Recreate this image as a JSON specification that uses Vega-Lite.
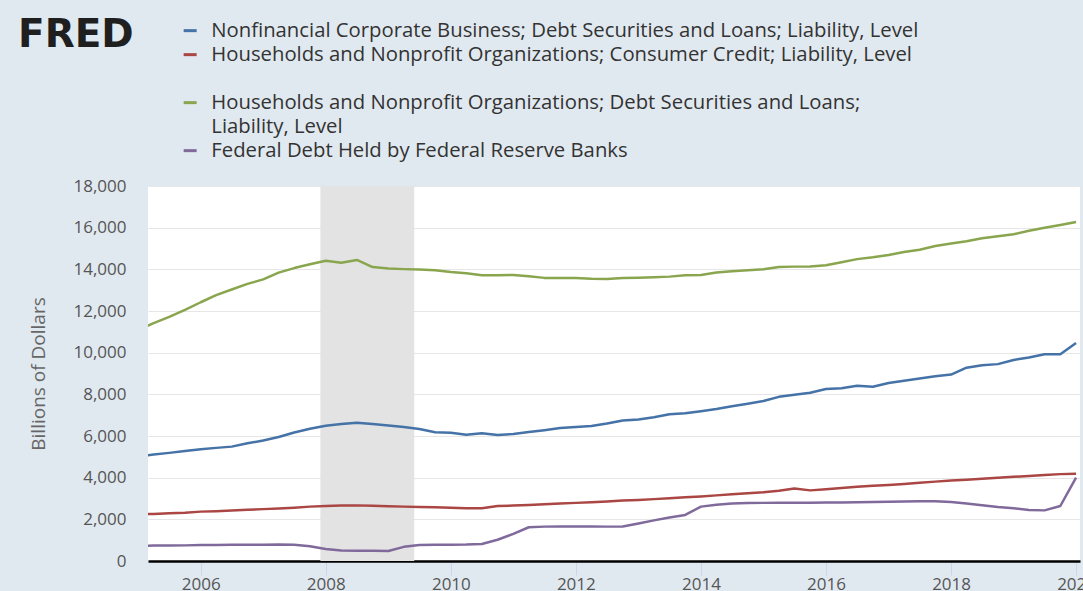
{
  "$schema": "https://vega.github.io/schema/vega-lite/v6.json",
  "width": 932,
  "height": 375,
  "autosize": {"type": "none"},
  "padding": {"left": 148, "top": 186, "right": 3, "bottom": 30},
  "background": "#e1e9f0",
  "title": {
    "text": "FRED",
    "anchor": "start",
    "frame": "group",
    "font": "DejaVu Sans",
    "fontWeight": "bold",
    "fontSize": 39,
    "color": "#1f1f1f",
    "dx": -130,
    "dy": 34,
    "offset": 0
  },
  "datasets": {
    "recession": [{"start": "2007-12-01", "end": "2009-06-01"}],
    "series": [
      {"date": "2005-01-01", "corp": 5020, "cons": 2240, "hh": 11100, "fed": 730},
      {"date": "2005-04-01", "corp": 5110, "cons": 2260, "hh": 11420, "fed": 740},
      {"date": "2005-07-01", "corp": 5190, "cons": 2290, "hh": 11720, "fed": 745},
      {"date": "2005-10-01", "corp": 5280, "cons": 2320, "hh": 12050, "fed": 750},
      {"date": "2006-01-01", "corp": 5360, "cons": 2370, "hh": 12420, "fed": 765},
      {"date": "2006-04-01", "corp": 5430, "cons": 2390, "hh": 12760, "fed": 770},
      {"date": "2006-07-01", "corp": 5490, "cons": 2420, "hh": 13030, "fed": 775},
      {"date": "2006-10-01", "corp": 5650, "cons": 2460, "hh": 13300, "fed": 780},
      {"date": "2007-01-01", "corp": 5780, "cons": 2490, "hh": 13520, "fed": 785},
      {"date": "2007-04-01", "corp": 5950, "cons": 2520, "hh": 13840, "fed": 790},
      {"date": "2007-07-01", "corp": 6170, "cons": 2560, "hh": 14060, "fed": 775},
      {"date": "2007-10-01", "corp": 6350, "cons": 2610, "hh": 14240, "fed": 710},
      {"date": "2008-01-01", "corp": 6490, "cons": 2640, "hh": 14410, "fed": 580},
      {"date": "2008-04-01", "corp": 6580, "cons": 2660, "hh": 14320, "fed": 500},
      {"date": "2008-07-01", "corp": 6640, "cons": 2670, "hh": 14450, "fed": 495},
      {"date": "2008-10-01", "corp": 6580, "cons": 2650, "hh": 14110, "fed": 495},
      {"date": "2009-01-01", "corp": 6500, "cons": 2630, "hh": 14040, "fed": 480},
      {"date": "2009-04-01", "corp": 6430, "cons": 2610, "hh": 14010, "fed": 680},
      {"date": "2009-07-01", "corp": 6340, "cons": 2590, "hh": 13990, "fed": 770},
      {"date": "2009-10-01", "corp": 6180, "cons": 2575, "hh": 13960, "fed": 775},
      {"date": "2010-01-01", "corp": 6160, "cons": 2560, "hh": 13870, "fed": 780},
      {"date": "2010-04-01", "corp": 6060, "cons": 2530, "hh": 13810, "fed": 790},
      {"date": "2010-07-01", "corp": 6130, "cons": 2530, "hh": 13720, "fed": 820},
      {"date": "2010-10-01", "corp": 6050, "cons": 2640, "hh": 13720, "fed": 1020},
      {"date": "2011-01-01", "corp": 6100, "cons": 2660, "hh": 13730, "fed": 1300},
      {"date": "2011-04-01", "corp": 6190, "cons": 2690, "hh": 13670, "fed": 1620},
      {"date": "2011-07-01", "corp": 6280, "cons": 2720, "hh": 13590, "fed": 1650},
      {"date": "2011-10-01", "corp": 6380, "cons": 2760, "hh": 13590, "fed": 1660},
      {"date": "2012-01-01", "corp": 6430, "cons": 2790, "hh": 13580, "fed": 1660},
      {"date": "2012-04-01", "corp": 6480, "cons": 2820, "hh": 13550, "fed": 1660},
      {"date": "2012-07-01", "corp": 6600, "cons": 2860, "hh": 13540, "fed": 1650},
      {"date": "2012-10-01", "corp": 6740, "cons": 2900, "hh": 13580, "fed": 1660},
      {"date": "2013-01-01", "corp": 6790, "cons": 2930, "hh": 13600, "fed": 1800},
      {"date": "2013-04-01", "corp": 6900, "cons": 2970, "hh": 13620, "fed": 1950},
      {"date": "2013-07-01", "corp": 7040, "cons": 3010, "hh": 13650, "fed": 2090},
      {"date": "2013-10-01", "corp": 7090, "cons": 3060, "hh": 13720, "fed": 2210},
      {"date": "2014-01-01", "corp": 7190, "cons": 3100, "hh": 13730, "fed": 2610},
      {"date": "2014-04-01", "corp": 7300, "cons": 3150, "hh": 13850, "fed": 2700},
      {"date": "2014-07-01", "corp": 7430, "cons": 3200, "hh": 13910, "fed": 2760},
      {"date": "2014-10-01", "corp": 7550, "cons": 3250, "hh": 13960, "fed": 2780},
      {"date": "2015-01-01", "corp": 7680, "cons": 3300, "hh": 14000, "fed": 2790},
      {"date": "2015-04-01", "corp": 7880, "cons": 3370, "hh": 14110, "fed": 2800},
      {"date": "2015-07-01", "corp": 7980, "cons": 3480, "hh": 14130, "fed": 2800},
      {"date": "2015-10-01", "corp": 8080, "cons": 3390, "hh": 14140, "fed": 2800},
      {"date": "2016-01-01", "corp": 8260, "cons": 3440, "hh": 14200, "fed": 2810},
      {"date": "2016-04-01", "corp": 8290, "cons": 3500, "hh": 14340, "fed": 2810},
      {"date": "2016-07-01", "corp": 8410, "cons": 3560, "hh": 14490, "fed": 2820},
      {"date": "2016-10-01", "corp": 8360, "cons": 3610, "hh": 14580, "fed": 2830},
      {"date": "2017-01-01", "corp": 8540, "cons": 3650, "hh": 14690, "fed": 2840},
      {"date": "2017-04-01", "corp": 8650, "cons": 3700, "hh": 14830, "fed": 2860},
      {"date": "2017-07-01", "corp": 8760, "cons": 3760, "hh": 14940, "fed": 2870},
      {"date": "2017-10-01", "corp": 8870, "cons": 3810, "hh": 15120, "fed": 2870},
      {"date": "2018-01-01", "corp": 8950, "cons": 3860, "hh": 15240, "fed": 2830},
      {"date": "2018-04-01", "corp": 9280, "cons": 3900, "hh": 15350, "fed": 2760},
      {"date": "2018-07-01", "corp": 9400, "cons": 3950, "hh": 15490, "fed": 2680},
      {"date": "2018-10-01", "corp": 9450, "cons": 4000, "hh": 15590, "fed": 2590},
      {"date": "2019-01-01", "corp": 9650, "cons": 4040, "hh": 15680, "fed": 2530},
      {"date": "2019-04-01", "corp": 9770, "cons": 4080, "hh": 15850, "fed": 2450},
      {"date": "2019-07-01", "corp": 9920, "cons": 4130, "hh": 16000, "fed": 2430},
      {"date": "2019-10-01", "corp": 9920, "cons": 4170, "hh": 16130, "fed": 2640},
      {"date": "2020-01-01", "corp": 10460, "cons": 4190, "hh": 16270, "fed": 4000}
    ]
  },
  "layer": [
    {
      "data": {"name": "recession"},
      "mark": {"type": "rect", "color": "#e3e3e3", "opacity": 1},
      "encoding": {
        "x": {"field": "start", "type": "temporal"},
        "x2": {"field": "end"}
      }
    },
    {
      "data": {"name": "series"},
      "transform": [{"fold": ["corp", "cons", "hh", "fed"], "as": ["series", "value"]}],
      "mark": {"type": "line", "strokeWidth": 2.5, "clip": true, "strokeJoin": "round"},
      "encoding": {
        "x": {
          "field": "date",
          "type": "temporal",
          "scale": {
            "type": "utc",
            "domain": [
              {"year": 2005, "month": 2, "date": 27, "utc": true},
              {"year": 2020, "month": 1, "date": 24, "utc": true}
            ]
          },
          "axis": {
            "title": null,
            "format": "%Y",
            "formatType": "utc",
            "tickCount": {"interval": "year", "step": 2},
            "grid": false,
            "domainColor": "#000000",
            "domainWidth": 2.5,
            "tickColor": "#ccd6eb",
            "tickSize": 14,
            "tickWidth": 1,
            "labelPadding": 1,
            "labelFont": "Open Sans",
            "labelFontSize": 17,
            "labelColor": "#555555"
          }
        },
        "y": {
          "field": "value",
          "type": "quantitative",
          "scale": {"domain": [0, 18000], "nice": false},
          "axis": {
            "title": "Billions of Dollars",
            "values": [0, 2000, 4000, 6000, 8000, 10000, 12000, 14000, 16000, 18000],
            "format": ",.0f",
            "domain": false,
            "ticks": false,
            "labelPadding": 22,
            "labelFont": "Open Sans",
            "labelFontSize": 17,
            "labelColor": "#555555",
            "titleFont": "Open Sans",
            "titleFontSize": 19,
            "titleFontWeight": "normal",
            "titleColor": "#666666",
            "titlePadding": 24,
            "gridColor": "#e6e6e6",
            "gridWidth": 1
          }
        },
        "color": {
          "field": "series",
          "type": "nominal",
          "scale": {
            "domain": ["corp", "cons", "hh", "fed"],
            "range": ["#4572a7", "#aa4643", "#89a54e", "#80699b"]
          },
          "legend": {
            "title": null,
            "orient": "none",
            "legendX": 32,
            "legendY": -165.5,
            "direction": "vertical",
            "padding": 0,
            "symbolType": "stroke",
            "symbolSize": 169,
            "symbolStrokeWidth": 3,
            "labelFont": "Open Sans",
            "labelFontSize": 20.3,
            "labelColor": "#333333",
            "labelOffset": 11,
            "labelLimit": 1000,
            "rowPadding": 3,
            "labelExpr": "datum.label == 'corp' ? 'Nonfinancial Corporate Business; Debt Securities and Loans; Liability, Level' : datum.label == 'cons' ? ['Households and Nonprofit Organizations; Consumer Credit; Liability, Level', ''] : datum.label == 'hh' ? ['Households and Nonprofit Organizations; Debt Securities and Loans;', 'Liability, Level'] : 'Federal Debt Held by Federal Reserve Banks'",
            "encode": {"labels": {"update": {"lineHeight": {"value": 24.5}}}}
          }
        }
      }
    }
  ],
  "config": {
    "view": {"fill": "white", "stroke": null}
  }
}
